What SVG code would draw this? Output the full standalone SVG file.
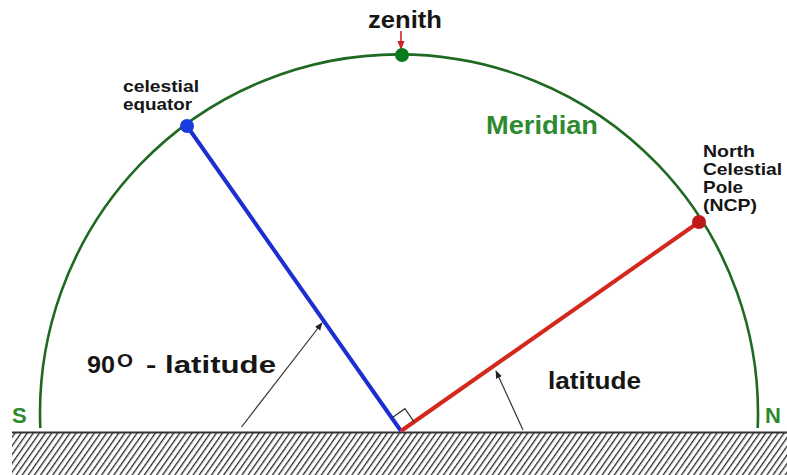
<svg xmlns="http://www.w3.org/2000/svg" width="787" height="475" viewBox="0 0 787 475">
<style>
text{font-family:"Liberation Sans",Arial,Helvetica,sans-serif;font-weight:bold}
.lbl{fill:#161616}
.grn{fill:#2e8a2e}
.thin{stroke:#333;stroke-width:1.2;fill:none}
</style>
<defs>
<pattern id="hatch" patternUnits="userSpaceOnUse" width="5" height="5" patternTransform="rotate(35)">
<rect width="5" height="5" fill="#fff"/>
<line x1="0" y1="0" x2="0" y2="5" stroke="#262626" stroke-width="2.6"/>
</pattern>
<marker id="ah" viewBox="0 0 10 10" refX="9" refY="5" markerWidth="8" markerHeight="8" markerUnits="userSpaceOnUse" orient="auto">
<path d="M0,1 L10,5 L0,9 z" fill="#222"/>
</marker>
<marker id="ahr" viewBox="0 0 10 10" refX="9" refY="5" markerWidth="9" markerHeight="9" markerUnits="userSpaceOnUse" orient="auto">
<path d="M0,1 L10,5 L0,9 z" fill="#d0202a"/>
</marker>
</defs>
<rect width="787" height="475" fill="#fff"/>
<g id="ground">
<rect x="12" y="432" width="775" height="43" fill="url(#hatch)"/>
<line x1="12" y1="432.5" x2="787" y2="432.5" stroke="#333" stroke-width="2"/>
</g>
<g id="meridian">
<path d="M 40.3 428 A 359 359 0 1 1 757.7 428" fill="none" stroke="#1f6a22" stroke-width="2.6"/>
<text x="486" y="134" font-size="25" class="grn" textLength="112" lengthAdjust="spacingAndGlyphs">Meridian</text>
<text x="12" y="423" font-size="22" class="grn">S</text>
<text x="765" y="423" font-size="22" class="grn">N</text>
</g>
<g id="connectors">
<line x1="187" y1="126" x2="401" y2="431" stroke="#1b2fd0" stroke-width="4"/>
<line x1="401" y1="431" x2="699" y2="222" stroke="#d4281c" stroke-width="4"/>
<path d="M391.8,417.9 L404.9,408.7 L414.1,421.8" class="thin"/>
<line x1="241.5" y1="427" x2="322" y2="323" stroke="#333" stroke-width="1.2" marker-end="url(#ah)"/>
<line x1="523" y1="430" x2="496" y2="371" stroke="#333" stroke-width="1.2" marker-end="url(#ah)"/>
<line x1="401" y1="31" x2="401" y2="49" stroke="#d0202a" stroke-width="1.6" marker-end="url(#ahr)"/>
</g>
<g id="zenith">
<circle cx="402" cy="55" r="7" fill="#0b7a1e"/>
<text x="368" y="28" font-size="23" class="lbl" textLength="74" lengthAdjust="spacingAndGlyphs">zenith</text>
</g>
<g id="celestial-equator">
<circle cx="187" cy="126" r="7" fill="#1b3ae0"/>
<text x="123" y="92" font-size="17" class="lbl" textLength="76" lengthAdjust="spacingAndGlyphs">celestial</text>
<text x="123" y="110" font-size="17" class="lbl" textLength="69" lengthAdjust="spacingAndGlyphs">equator</text>
</g>
<g id="ncp">
<circle cx="699" cy="222" r="7" fill="#c0181a"/>
<text font-size="17" class="lbl">
<tspan x="703" y="157" textLength="52" lengthAdjust="spacingAndGlyphs">North</tspan>
<tspan x="703" y="175" textLength="79" lengthAdjust="spacingAndGlyphs">Celestial</tspan>
<tspan x="703" y="193" textLength="40" lengthAdjust="spacingAndGlyphs">Pole</tspan>
<tspan x="703" y="211" textLength="54" lengthAdjust="spacingAndGlyphs">(NCP)</tspan>
</text>
</g>
<g id="label-90">
<text y="373" font-size="24" class="lbl"><tspan x="87" textLength="28" lengthAdjust="spacingAndGlyphs">90</tspan><tspan x="117" dy="-6" font-size="18" textLength="16" lengthAdjust="spacingAndGlyphs">O</tspan><tspan x="146" dy="6" textLength="130" lengthAdjust="spacingAndGlyphs">- latitude</tspan></text>
</g>
<g id="label-latitude">
<text x="548" y="389" font-size="24" class="lbl" textLength="93" lengthAdjust="spacingAndGlyphs">latitude</text>
</g>
</svg>
